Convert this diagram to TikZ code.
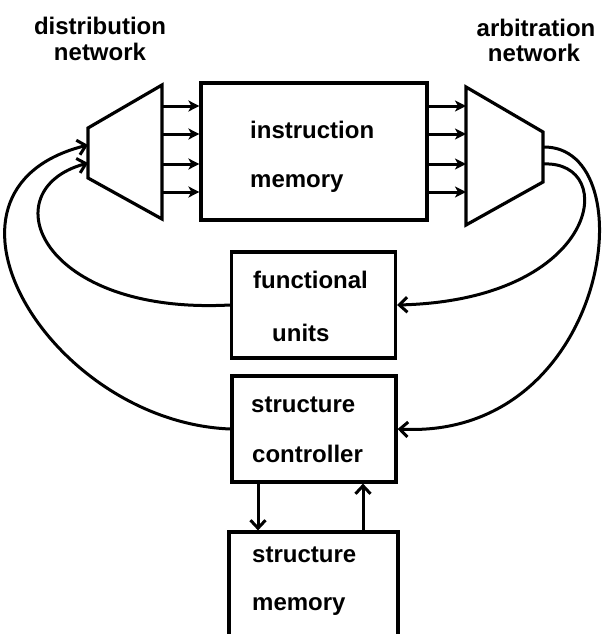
\documentclass[tikz,border=0pt]{standalone}
\usepackage{fontspec}
\setmainfont{Liberation Sans}
\usetikzlibrary{arrows,arrows.meta,shapes}
\tikzstyle{block}=[draw,line width=3.2pt,minimum width=164pt,minimum height=106pt,inner sep=0pt]
\tikzstyle{word}=[font=\bfseries\fontsize{24}{24}\selectfont,inner sep=0pt]
\tikzstyle{link} = [draw,line width=3pt,-{Stealth[length=11pt,width=11pt,inset=3pt]}]

\begin{document}
\begin{tikzpicture}[x=1pt,y=-1pt]
      \tikzset{back/.style = {draw,line width=3pt,-{Straight Barb[length=8pt,width=15pt]}}}
      \useasboundingbox (0,0) rectangle (604,634);
      % boxes
      \node[block,minimum width=226pt,minimum height=137pt] (mem) at (314,151.5) {};
      \node[block] (fu) at (313.5,305) {};
      \node[block] (sc) at (314,429) {};
      \node[block,minimum width=169pt,minimum height=110pt] (sm) at (313.5,587) {};
      % networks
      \coordinate (dn1) at (88,128);
      \coordinate (dn2) at (162,85);
      \coordinate (dn3) at (162,219);
      \coordinate (dn4) at (88,178);
      \coordinate (an1) at (466,87);
      \coordinate (an2) at (543,132);
      \coordinate (an3) at (543,182);
      \coordinate (an4) at (466,225);
      \draw[line width=3.2pt] (dn1) -- (dn2) -- (dn3) -- (dn4) -- cycle;
      \draw[line width=3.2pt] (an1) -- (an2) -- (an3) -- (an4) -- cycle;
      \foreach \y [count=\i] in {106,134,164,192} {
        \coordinate (din\i) at (162,\y);
        \coordinate (aout\i) at (466,\y);
        \draw[link] (din\i) -- (din\i -| mem.west);
        \draw[link] (aout\i -| mem.east) -- (aout\i);
      }
      % feedback
      \coordinate (dback1) at (88,145);
      \coordinate (dback2) at (88,163);
      \coordinate (afwd1) at (543,147);
      \coordinate (afwd2) at (543,164);
      \draw[back] (sc.west) .. controls (50,422) and (-90,190) .. (dback1);
      \draw[back] (fu.west) .. controls (40,315) and (-10,190) .. (dback2);
      \draw[back] (afwd1) .. controls (648,145) and (610,440) .. (sc.east);
      \draw[back] (afwd2) .. controls (620,160) and (600,300) .. (fu.east);
      \draw[back] ([xshift=-56pt]sc.south) -- ([xshift=-56pt]sc.south |- sm.north);
      \draw[back] ([xshift=49pt]sc.south |- sm.north) -- ([xshift=49pt]sc.south);
      % labels
      \node[word,anchor=base] (dl1) at (100,35) {distribution};
      \node[word,anchor=base] (dl2) at (100,60) {network};
      \node[word,anchor=base] (al1) at (536,37) {arbitration};
      \node[word,anchor=base] (al2) at (534,61) {network};
      \node[word,anchor=base west] (ml1) at (250,138) {instruction};
      \node[word,anchor=base west] (ml2) at (250,187) {memory};
      \node[word,anchor=base west] (fl1) at (253,288) {functional};
      \node[word,anchor=base west] (fl2) at (272,341) {units};
      \node[word,anchor=base west] (cl1) at (251,412) {structure};
      \node[word,anchor=base west] (cl2) at (252,462) {controller};
      \node[word,anchor=base west] (sl1) at (252,562) {structure};
      \node[word,anchor=base west] (sl2) at (252,610) {memory};
\end{tikzpicture}
\end{document}
